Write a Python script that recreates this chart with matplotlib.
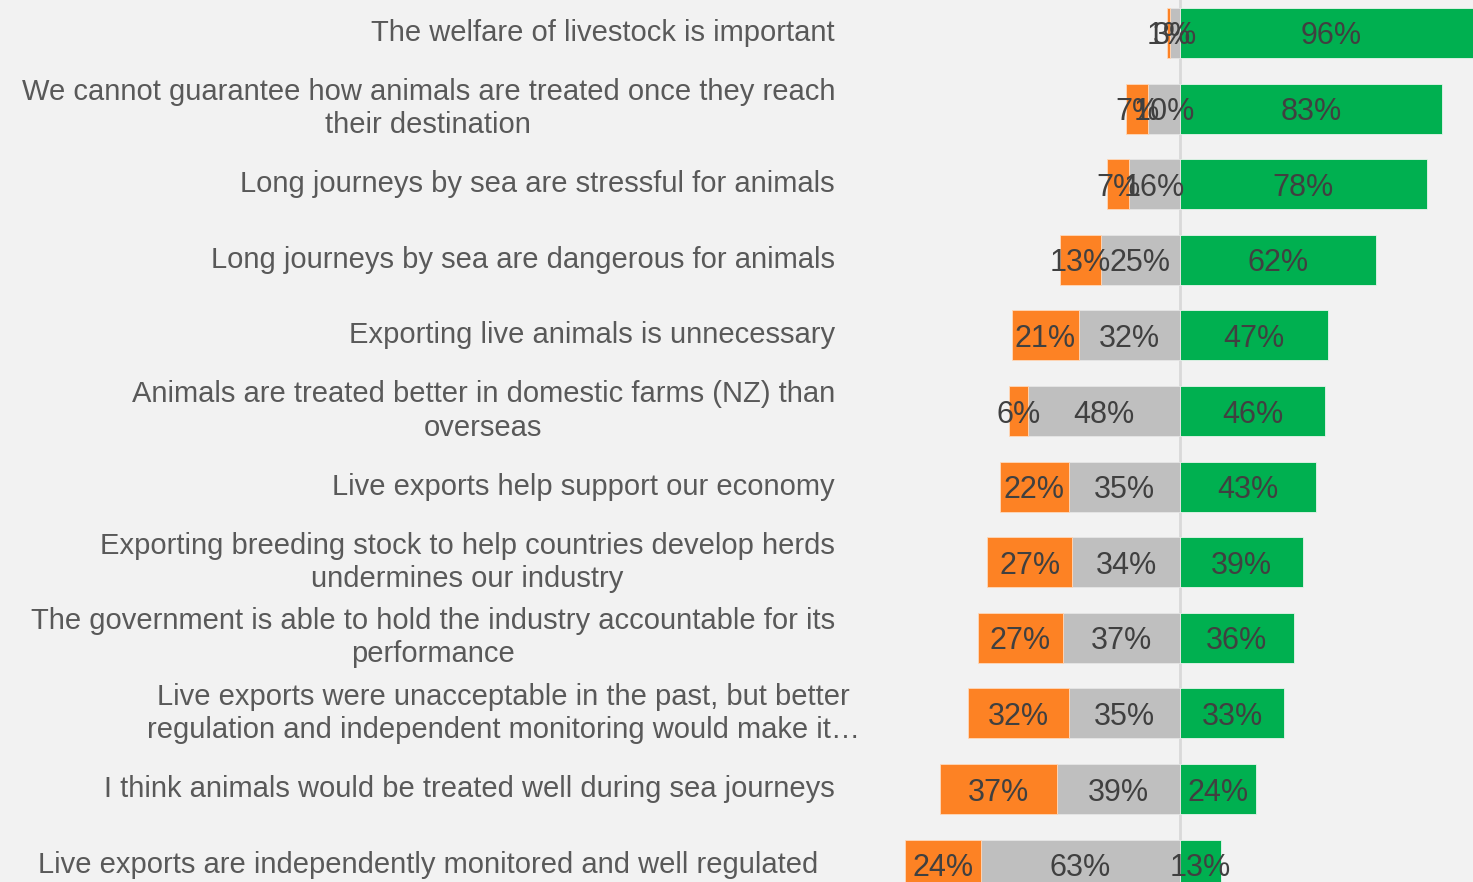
import matplotlib.pyplot as plt
import matplotlib.transforms as mtransforms
import numpy as np

plt.rcParams['font.family'] = ['Liberation Sans', 'DejaVu Sans']

statements = [
    "The welfare of livestock is important",
    "We cannot guarantee how animals are treated once they reach\ntheir destination",
    "Long journeys by sea are stressful for animals",
    "Long journeys by sea are dangerous for animals",
    "Exporting live animals is unnecessary",
    "Animals are treated better in domestic farms (NZ) than\noverseas",
    "Live exports help support our economy",
    "Exporting breeding stock to help countries develop herds\nundermines our industry",
    "The government is able to hold the industry accountable for its\nperformance",
    "Live exports were unacceptable in the past, but better\nregulation and independent monitoring would make it\u2026",
    "I think animals would be treated well during sea journeys",
    "Live exports are independently monitored and well regulated",
]
disagree = [1, 7, 7, 13, 21, 6, 22, 27, 27, 32, 37, 24]
neutral = [3, 10, 16, 25, 32, 48, 35, 34, 37, 35, 39, 63]
agree = [96, 83, 78, 62, 47, 46, 43, 39, 36, 33, 24, 13]

c_dis = '#fd8224'
c_neu = '#bfbfbf'
c_agr = '#00b050'
bg = '#f2f2f2'

fig = plt.figure(figsize=(14.73, 8.82), dpi=100, facecolor=bg)
ax = fig.add_axes([870 / 1473, 0, 603 / 1473, 1])
ax.set_facecolor(bg)

y = np.arange(len(statements))
dis = np.array(disagree)
neu = np.array(neutral)
agr = np.array(agree)

h = 0.66
ax.axvline(0, color='#d9d9d9', lw=2, zorder=0)
ax.barh(y, agr, height=h, color=c_agr, edgecolor='#e8f5ec', lw=0.6, zorder=2)
ax.barh(y, -neu, height=h, color=c_neu, edgecolor='#e6e6e6', lw=0.6, zorder=2)
ax.barh(y, -dis, height=h, left=-neu, color=c_dis, edgecolor='#ffd9bb', lw=0.6, zorder=2)

vcol = '#404040'
for i in y:
    ax.text(agr[i] / 2, i, f"{agr[i]}%", ha='center', va='center_baseline', fontsize=22, color=vcol, zorder=3)
    ax.text(-neu[i] / 2, i, f"{neu[i]}%", ha='center', va='center_baseline', fontsize=22, color=vcol, zorder=3)
    ax.text(-neu[i] - dis[i] / 2, i, f"{dis[i]}%", ha='center', va='center_baseline', fontsize=22, color=vcol, zorder=3)

# category labels to the left of the bars
trans = mtransforms.blended_transform_factory(fig.transFigure, ax.transData)
label_x = {9: 860, 11: 818}
for i, s in enumerate(statements):
    xr = label_x.get(i, 835) / 1473
    ax.text(xr, i, s, transform=trans, ha='right', va='center', multialignment='center',
            fontsize=21, linespacing=1.23, color='#595959', clip_on=False)

ax.set_xlim(-98, 92.7)
ax.set_ylim(11.23, -0.4365)
ax.axis('off')

fig.savefig('out.png', dpi=100, facecolor=bg)
